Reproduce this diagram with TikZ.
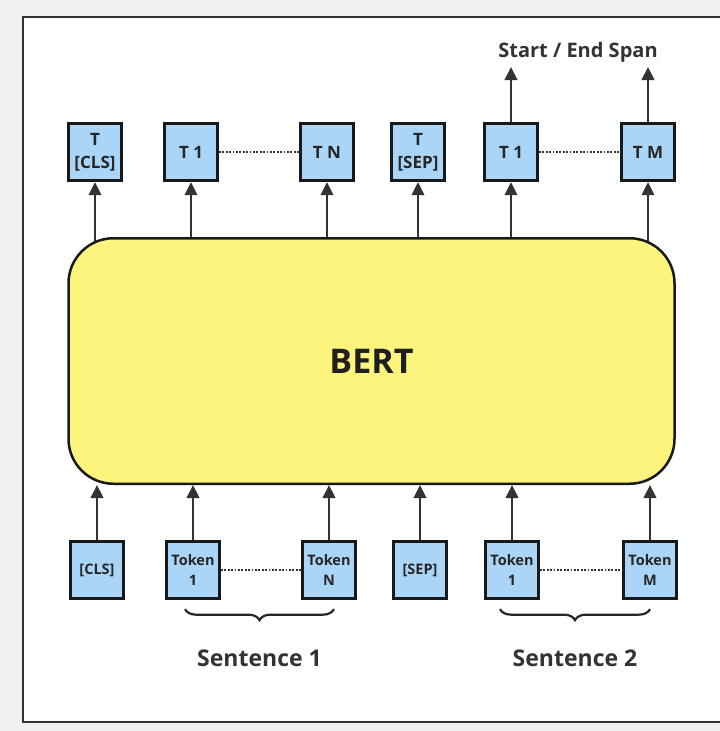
\documentclass[tikz,border=0pt]{standalone}
\definecolor{tokBlue}{HTML}{ABD5F7}
\definecolor{bertYellow}{HTML}{FDF47E}
\definecolor{inkGray}{HTML}{333333}
\definecolor{pageGray}{HTML}{F1F1F1}
\usepackage{fontspec}
\setmainfont{Open Sans}
\usepackage{tikz}
\usetikzlibrary{positioning, calc, arrows.meta, decorations.pathreplacing}
\tikzset{
  tokbox/.style={rectangle, draw=black!90, fill=tokBlue, line width=2.8pt,
                 minimum width=53pt, minimum height=57.5pt, inner sep=0pt,
                 align=center, text=black!85, font=\fontsize{17}{23}\selectfont\bfseries},
  inbox/.style={tokbox, font=\fontsize{14.5}{20}\selectfont\bfseries},
  bertbox/.style={rectangle, draw=black!90, fill=bertYellow, line width=2.5pt,
                  minimum width=606pt, minimum height=245.5pt,
                  rounded corners=45pt, text=black!88,
                  font=\fontsize{34}{40}\selectfont\bfseries},
  lbl/.style={text=black!80, font=\fontsize{20}{24}\selectfont\bfseries},
  arr/.style={-{Triangle[length=13pt, width=12.5pt]}, draw=inkGray, line width=2.2pt},
  dotline/.style={draw=inkGray, line width=1.8pt, dash pattern=on 1.8pt off 1.6pt},
  sbrace/.style={draw=black!85, line width=2.2pt,
                 decorate, decoration={brace, mirror, amplitude=11pt}},
}

\begin{document}
\begin{tikzpicture}[x=1pt, y=-1pt]
    \useasboundingbox (0,0) rectangle (720,731);
    \fill[pageGray] (0,0) rectangle (720,731);
    \draw[inkGray, line width=2pt, fill=white] (23,17) rectangle (740,722);

    % output tokens
    \node[tokbox] (tCLS) at (95,152) {T\\{[CLS]}};
    \node[tokbox] (tOne) at (191,152) {T 1};
    \node[tokbox] (tN)   at (327,152) {T N};
    \node[tokbox] (tSEP) at (418,152) {T\\{[SEP]}};
    \node[tokbox] (tOneB) at (511,152) {T 1};
    \node[tokbox] (tM)   at (648,152) {T M};

    \draw[dotline] (tOne) -- (tN);
    \draw[dotline] (tOneB) -- (tM);

    % span head
    \node[lbl] (spanTxt) at (578,52) {Start / End Span};
    \coordinate (spanTip) at (0,67);
    \draw[arr] (tOneB) -- (tOneB |- spanTip);
    \draw[arr] (tM) -- (tM |- spanTip);

    % encoder (arrows first, the block covers their tails)
    \coordinate (core) at (371.5,361);
    \foreach \t in {tCLS, tOne, tN, tSEP, tOneB, tM}
      \draw[arr] (\t |- core) -- (\t);
    \node[bertbox] (bert) at (core) {BERT};

    % input tokens
    \node[inbox] (inCLS)  at (97,570) {[CLS]};
    \node[inbox] (tokOne) at (193,570) {Token\\1};
    \node[inbox] (tokN)   at (329,570) {Token\\N};
    \node[inbox] (inSEP)  at (420,570) {[SEP]};
    \node[inbox] (tokOneB) at (512,570) {Token\\1};
    \node[inbox] (tokM)   at (650,570) {Token\\M};

    \draw[dotline] (tokOne) -- (tokN);
    \draw[dotline] (tokOneB) -- (tokM);

    \foreach \t in {inCLS, tokOne, tokN, inSEP, tokOneB, tokM}
      \draw[arr] (\t) -- (\t |- bert.south);

    % sentence groups
    \draw[sbrace] ([xshift=-8pt, yshift=-9pt]tokOne.south) -- ([xshift=5pt, yshift=-9pt]tokN.south)
      node[lbl, midway, yshift=-49pt, font=\fontsize{23}{28}\selectfont\bfseries] (sentA) {Sentence 1};
    \draw[sbrace] ([xshift=-12pt, yshift=-9pt]tokOneB.south) -- ([xshift=0pt, yshift=-9pt]tokM.south)
      node[lbl, midway, yshift=-49pt, font=\fontsize{23}{28}\selectfont\bfseries] (sentB) {Sentence 2};
\end{tikzpicture}
\end{document}
